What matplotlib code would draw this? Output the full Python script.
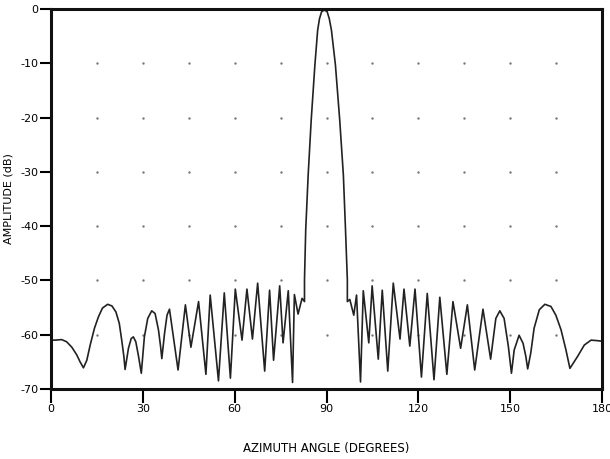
import matplotlib
matplotlib.use("Agg")
import matplotlib.pyplot as plt

# azimuth (deg) and amplitude (dB)
azimuth = [
    0.0, 1.3, 3.5, 5.1, 6.8, 8.4, 9.5, 10.6, 11.7, 12.8, 14.2, 15.5, 16.8,
    18.5, 19.9, 21.2, 22.3, 23.1, 23.8, 24.2, 25.3, 26.2, 26.9, 27.7, 28.6,
    29.5, 30.5, 31.6, 32.9, 34.0, 35.1, 35.8, 36.2, 37.1, 37.9, 38.7, 41.5,
    43.9, 45.7, 48.2, 50.6, 52.0, 54.7, 56.6, 58.6, 60.2, 62.4, 64.0, 65.8,
    67.5, 69.8, 71.4, 72.7, 74.7, 75.8, 77.5, 78.9, 79.5, 80.7, 82.0, 82.8,
    82.8, 83.2, 84.0, 85.0, 86.2, 87.1, 87.7, 88.4, 89.3, 90.2, 90.9, 91.6,
    92.9, 94.3, 95.5, 96.2, 96.8, 96.8, 97.6, 98.9, 99.8, 101.1, 102.0,
    103.8, 104.9, 106.9, 108.2, 110.0, 111.8, 114.0, 115.3, 117.2, 118.9,
    121.0, 122.9, 125.1, 127.0, 129.3, 131.3, 133.8, 136.0, 138.4, 141.1,
    143.6, 145.3, 146.6, 148.0, 149.4, 150.4, 151.3, 152.9, 154.2, 155.1,
    155.7, 156.7, 157.8, 159.5, 161.3, 163.3, 164.9, 166.6, 168.2, 169.5,
    172.0, 174.2, 176.4, 178.6, 180.0,
]
amplitude = [
    -61.0, -61.0, -60.9, -61.3, -62.3, -63.7, -65.0, -66.1, -64.7, -61.9,
    -58.8, -56.7, -55.1, -54.4, -54.7, -55.8, -57.9, -61.0, -64.0, -66.4,
    -62.5, -60.7, -60.4, -61.3, -64.0, -67.1, -60.4, -57.0, -55.6, -56.1,
    -59.1, -62.2, -64.4, -59.7, -56.4, -55.3, -66.5, -54.5, -62.3, -53.9,
    -67.3, -52.7, -68.5, -52.3, -68.0, -51.6, -61.0, -51.6, -60.8, -50.5,
    -66.7, -51.8, -64.7, -51.0, -61.5, -51.9, -68.8, -52.6, -56.2, -53.3,
    -53.9, -49.9, -40.7, -30.6, -20.4, -10.3, -3.9, -1.8, -0.5, -0.2, -0.5,
    -1.8, -3.9, -10.3, -20.4, -30.6, -40.7, -49.9, -53.9, -53.5, -56.4,
    -52.7, -68.7, -51.9, -61.5, -51.0, -64.5, -51.8, -66.7, -50.5, -60.8,
    -51.6, -62.1, -51.6, -67.8, -52.4, -68.3, -53.1, -67.3, -53.9, -62.5,
    -54.5, -66.5, -55.3, -64.5, -57.0, -55.6, -57.0, -62.2, -67.1, -62.8,
    -60.1, -61.6, -64.0, -66.3, -63.4, -58.8, -55.4, -54.4, -54.8, -56.4,
    -59.1, -62.8, -66.2, -64.0, -61.9, -61.0, -61.1, -61.2,
]

x_ticks = [0, 30, 60, 90, 120, 150, 180]
y_ticks = [0, -10, -20, -30, -40, -50, -60, -70]
dot_x = [15, 30, 45, 60, 75, 90, 105, 120, 135, 150, 165]
dot_y = [-10, -20, -30, -40, -50, -60]

plt.rcParams["font.family"] = "DejaVu Sans"

fig = plt.figure(figsize=(6.10, 4.59), dpi=100)
ax = fig.add_axes([0.0836, 0.1525, 0.9034, 0.828])

# grid shown as small dots at the intersections
gx = [x for x in dot_x for y in dot_y]
gy = [y for x in dot_x for y in dot_y]
ax.scatter(gx, gy, s=3, color="#777777", linewidths=0, zorder=1)

ax.plot(azimuth, amplitude, color="#222222", linewidth=1.2, zorder=2)

ax.set_xlim(0, 180)
ax.set_ylim(-70, 0)
ax.set_xticks(x_ticks)
ax.set_yticks(y_ticks)
ax.set_xticklabels([str(t) for t in x_ticks], fontsize=8)
ax.set_yticklabels([str(t) for t in y_ticks], fontsize=8)
ax.tick_params(axis="x", direction="out", length=10, width=1.5, pad=1)
ax.tick_params(axis="y", direction="out", length=8, width=1.5, pad=1)
for s in ax.spines.values():
    s.set_linewidth(2.2)
    s.set_color("#111111")

ax.set_xlabel("AZIMUTH ANGLE (DEGREES)", fontsize=8.5, labelpad=20)
ax.set_ylabel("AMPLITUDE (dB)", fontsize=8)
ax.yaxis.set_label_coords(-0.068, 0.5)

fig.savefig("out.png", dpi=100, facecolor="white")
plt.close(fig)
